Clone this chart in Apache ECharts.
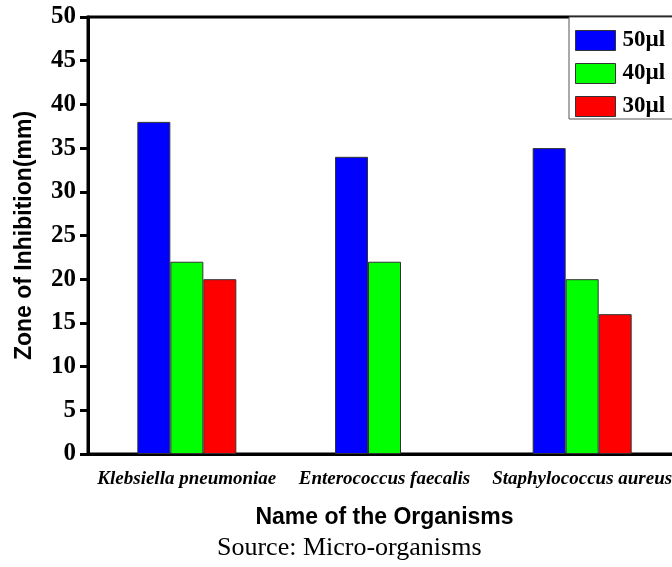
<!DOCTYPE html>
<html>
<head>
<meta charset="utf-8">
<script src="https://cdn.jsdelivr.net/npm/echarts@6/dist/echarts.min.js"></script>
<style>
  html, body { margin: 0; padding: 0; background: #fff; overflow: hidden; }
  /* plot runs a few px past the right edge, like the cropped original */
  #chart { width: 681px; height: 567px; }
</style>
</head>
<body>
<div id="chart"></div>
<script>
// organisms on the x axis
const organisms = ["Klebsiella pneumoniae", "Enterococcus faecalis", "Staphylococcus aureus"];

// zone of inhibition (mm) per dose, "-" = no bar
const dose50 = [38, 34, 35];
const dose40 = [22, 22, 20];
const dose30 = [20, "-", 16];

const yTicks = { min: 0, max: 50, interval: 5 };

const serif = "'Liberation Serif', 'Times New Roman', serif";
const sans = "'Liberation Sans', Arial, sans-serif";

const chart = echarts.init(document.getElementById("chart"));

function bar(name, data, color) {
  return {
    name: name,
    type: "bar",
    data: data,
    barWidth: 33,
    barGap: "0%",
    itemStyle: { color: color, borderColor: "#333", borderWidth: 1 },
  };
}

chart.setOption({
  animation: false,
  grid: {
    left: 88,
    top: 17,
    right: 0,
    bottom: 113,
    show: true,
    borderColor: "#000",
    borderWidth: 3,
  },
  legend: {
    orient: "vertical",
    left: 569,
    top: 17,
    padding: [12, 20, 1, 6],
    itemGap: 10,
    itemWidth: 40,
    itemHeight: 20,
    borderColor: "#555",
    borderWidth: 1,
    backgroundColor: "#fff",
    icon: "rect",
    itemStyle: { borderColor: "#333", borderWidth: 1 },
    textStyle: { fontFamily: serif, fontWeight: "bold", fontSize: 23, color: "#000", padding: [0, 0, 0, 2] },
  },
  xAxis: {
    type: "category",
    data: organisms,
    name: "Name of the Organisms",
    nameLocation: "middle",
    nameGap: 52,
    nameTextStyle: { fontFamily: sans, fontWeight: "bold", fontSize: 23, color: "#000" },
    axisLine: { lineStyle: { color: "#000", width: 3 } },
    axisTick: { alignWithLabel: true, length: 8, lineStyle: { color: "#000", width: 3 } },
    axisLabel: {
      interval: 0,
      margin: 16,
      fontFamily: serif,
      fontWeight: "bold",
      fontStyle: "italic",
      fontSize: 19,
      color: "#000",
    },
  },
  yAxis: {
    type: "value",
    min: yTicks.min,
    max: yTicks.max,
    interval: yTicks.interval,
    name: "Zone of Inhibition(mm)",
    nameLocation: "middle",
    nameGap: 52,
    nameTextStyle: { fontFamily: sans, fontWeight: "bold", fontSize: 23, color: "#000" },
    splitLine: { show: false },
    axisLine: { show: true, lineStyle: { color: "#000", width: 3 } },
    axisTick: { show: true, length: 8, lineStyle: { color: "#000", width: 3 } },
    axisLabel: { margin: 12, fontFamily: serif, fontWeight: "bold", fontSize: 25, color: "#000" },
  },
  series: [
    bar("50µl", dose50, "#0000ff"),
    bar("40µl", dose40, "#00ff00"),
    bar("30µl", dose30, "#ff0000"),
  ],
  graphic: [
    {
      type: "text",
      left: 217,
      top: 535,
      style: {
        text: "Source: Micro-organisms",
        fontFamily: serif,
        fontSize: 26,
        fill: "#000",
      },
    },
  ],
});
</script>
</body>
</html>
